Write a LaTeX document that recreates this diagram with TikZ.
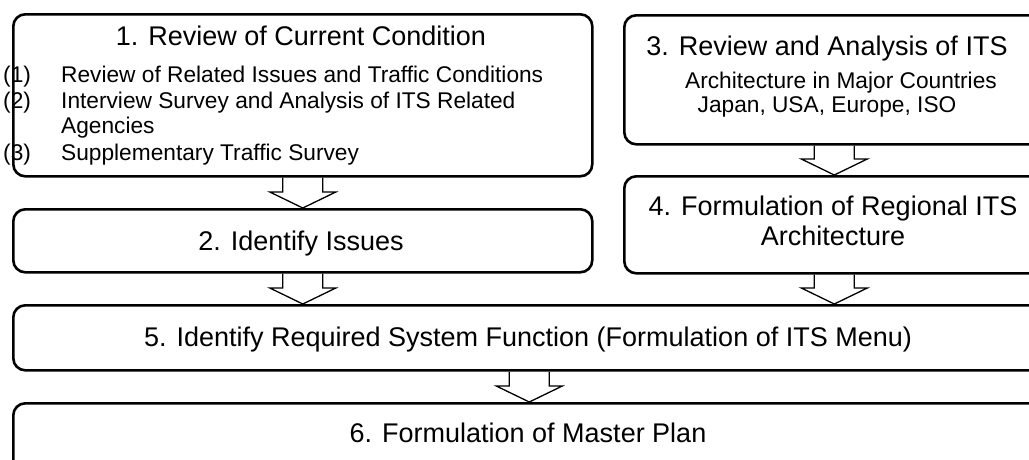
\documentclass[tikz,border=0pt]{standalone}
\usepackage{fontspec}
\setmainfont{Liberation Sans}
\usetikzlibrary{calc}
\begin{document}
\begin{tikzpicture}[x=1pt,y=-1pt,
  stage/.style={draw, line width=2.6pt, rounded corners=12pt, inner sep=0pt, anchor=north west},
  title/.style={font=\fontsize{27}{31}\selectfont, inner sep=0pt, anchor=base},
  item/.style={font=\fontsize{22.7}{26}\selectfont, inner sep=0pt, anchor=base west},
  sub/.style={font=\fontsize{22.7}{26}\selectfont, inner sep=0pt, anchor=base},
  blockarrow/.style={draw, line width=1.3pt, line join=miter}]
\useasboundingbox (0,0) rectangle (1029,459);
\clip (0,0) rectangle (1029,459);

% stage boxes
\node[stage, minimum width=579pt, minimum height=162pt] (b1) at (12,13) {};
\node[stage, minimum width=579pt, minimum height=63pt]  (b2) at (12,208) {};
\node[stage, minimum width=420pt, minimum height=129pt] (b3) at (623,14) {};
\node[stage, minimum width=420pt, minimum height=97pt]  (b4) at (623,175) {};
\node[stage, minimum width=1032pt, minimum height=65pt] (b5) at (12,304) {};
\node[stage, minimum width=1032pt, minimum height=80pt] (b6) at (12,402) {};

% box 1 text
\node[title] (t1) at (301,45) {1. Review of Current Condition};
\node[item] (n1) at (3,82) {(1)};
\node[item] (i1) at (61,82) {Review of Related Issues and Traffic Conditions};
\node[item] (n2) at (3,108) {(2)};
\node[item] (i2) at (61,108) {Interview Survey and Analysis of ITS Related};
\node[item] (i2b) at (61,133) {Agencies};
\node[item] (n3) at (3,160) {(3)};
\node[item] (i3) at (61,160) {Supplementary Traffic Survey};

% box 2 text
\node[title] (t2) at (301,250) {2. Identify Issues};

% box 3 text
\node[title] (t3) at (827,55) {3. Review and Analysis of ITS};
\node[sub] (s3a) at (841,88) {Architecture in Major Countries};
\node[sub] (s3b) at (827,112) {Japan, USA, Europe, ISO};

% box 4 text
\node[title] (t4) at (833,215) {4. Formulation of Regional ITS};
\node[title] (t4b) at (833,245) {Architecture};

% box 5 and 6 text
\node[title] (t5) at (528,346) {5. Identify Required System Function (Formulation of ITS Menu)};
\node[title] (t6) at (528,442) {6. Formulation of Master Plan};

% hollow block arrows between stages
\foreach \src/\dst in {b1/b2, b2/b5, b3/b4, b4/b5, b5/b6}{
  \draw[blockarrow] let \p1=(\src.south), \p2=(\dst.north) in
    (\x1-20pt,\y1) -- (\x1-20pt,\y2+16pt) -- (\x1-33pt,\y2+16pt)
    -- (\x1,\y2) -- (\x1+33pt,\y2+16pt) -- (\x1+20pt,\y2+16pt) -- (\x1+20pt,\y1);
}
\end{tikzpicture}
\end{document}
